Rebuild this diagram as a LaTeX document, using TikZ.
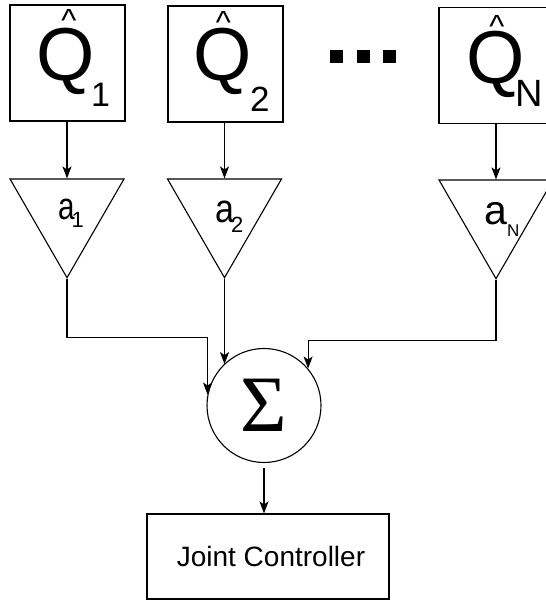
\documentclass[tikz,border=0pt]{standalone}
\usepackage{fontspec}
\setmainfont{Liberation Sans}
\newfontfamily\sigmafont{Liberation Serif}
\usetikzlibrary{shapes.geometric,arrows.meta}
\newcommand{\Qlab}[4]{{\fontsize{75}{75}\selectfont Q}\kern#4\raisebox{-#3}{\fontsize{#2}{#2}\selectfont #1}}
\newcommand{\alab}[5]{\scalebox{#2}[1]{\fontsize{#1}{#1}\selectfont a}\kern#3\raisebox{-#4}{\fontsize{22}{22}\selectfont #5}}
\begin{document}
\begin{tikzpicture}[x=1pt,y=1pt,
  ln/.style={line width=1.1pt},
  arr/.style={ln,-{Stealth[length=12pt,width=9pt,inset=3pt]}},
  qbox/.style={draw, line width=1.1pt, minimum width=115pt, minimum height=116pt, inner sep=0pt},
  gain/.style={draw, line width=1.1pt, regular polygon, regular polygon sides=3, shape border rotate=180, minimum size=131.6pt, inner sep=0pt},
  lab/.style={inner sep=0pt, anchor=base west},
  hat/.style={inner sep=0pt, anchor=base, font=\fontsize{32}{32}\selectfont},
  dotsq/.style={fill=black, minimum size=13pt, inner sep=0pt},
]
\useasboundingbox (0,0) rectangle (546,600);
% input boxes
\node[qbox] (q1) at (67.5,537) {};
\node[qbox] (q2) at (225.5,536) {};
\node[qbox] (qN) at (496.5,534.5) {};
\node[lab] (q1l) at (36.5,519.5) {\Qlab{1}{34pt}{26.5pt}{-4pt}};
\node[lab] (q2l) at (193.5,519) {\Qlab{2}{35pt}{31pt}{-2pt}};
\node[lab] (qNl) at (466.5,516) {\Qlab{N}{38pt}{23pt}{-10pt}};
\node[hat] (h1) at (69,568) {\textasciicircum};
\node[hat] (h2) at (223.5,566) {\textasciicircum};
\node[hat] (hN) at (497,562) {\textasciicircum};
% ellipsis
\node[dotsq] (d1) at (336.5,543.5) {};
\node[dotsq] (d2) at (363.5,543.5) {};
\node[dotsq] (d3) at (389,543.5) {};
% gains
\node[gain] (t1) at (67,388.1) {};
\node[gain] (t2) at (224.5,388.1) {};
\node[gain] (tN) at (496,387.1) {};
\node[lab] (a1) at (58,380) {\alab{38}{0.78}{-3pt}{8pt}{1}};
\node[lab] (a2) at (215,377) {\alab{40}{0.85}{-3pt}{10pt}{2}};
\node[lab] (aN) at (484,375) {\alab{41}{1}{0pt}{12pt}{\fontsize{17}{17}\selectfont N}};
% sum
\node[circle, draw, line width=1.1pt, minimum size=114pt, inner sep=0pt, font=\sigmafont\fontsize{80}{80}\selectfont] (sum) at (264,194.5) {Σ};
% controller
\node[draw, line width=1.1pt, minimum width=242pt, minimum height=85pt, font=\fontsize{28}{28}\selectfont] (jc) at (268,43.5) {\hspace*{6pt}Joint Controller};
% connectors
\draw[arr] (q1.south -| t1.side 2) -- (t1.side 2);
\draw[arr] (q2.south -| t2.side 2) -- (t2.side 2);
\draw[arr] (qN.south -| tN.side 2) -- (tN.side 2);
\draw[arr] (t1.corner 1) -- ++(0,-59) -| (sum.169);
\draw[arr] (t2.corner 1) -- (t2.corner 1 |- sum.134);
\draw[arr] (tN.corner 1) -- ++(0,-61) -| (sum.40);
\draw[arr,shorten <=5pt] (sum.south) -- (sum.south |- jc.north);
\end{tikzpicture}
\end{document}
